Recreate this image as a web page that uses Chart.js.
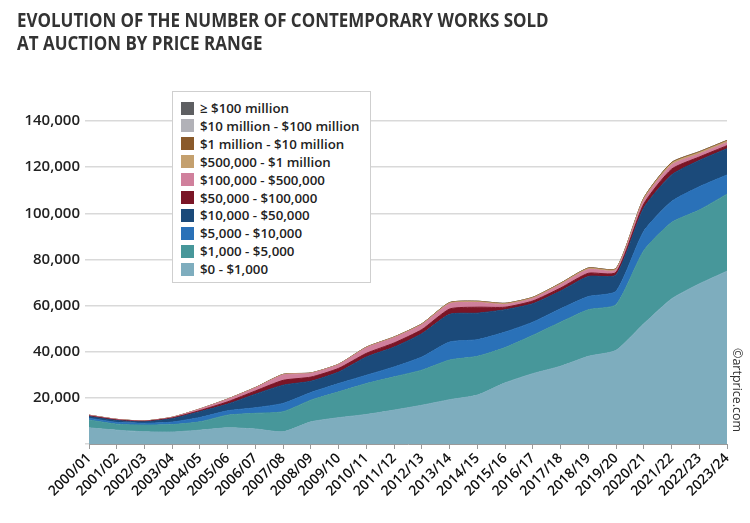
<!DOCTYPE html>
<html>
<head>
<meta charset="utf-8">
<script src="https://cdn.jsdelivr.net/npm/chart.js@4.4.0/dist/chart.umd.min.js"></script>
<style>
  html, body { margin:0; padding:0; background:#fff; }
  #wrap { position:relative; width:750px; height:523px; font-family:'Open Sans', sans-serif; }
  #title { position:absolute; left:17px; top:8px; font-size:19.5px; font-weight:700; color:#333; line-height:23px; transform:scaleX(0.87); transform-origin:0 0; white-space:nowrap; }
  #legend { position:absolute; left:172px; top:91px; width:197px; height:190px; border:1px solid #cfcfcf; background:#fff; }
  .row { position:absolute; left:8px; height:16px; font-size:13.3px; font-weight:600; color:#222; white-space:nowrap; line-height:16px; }
  .sw { position:absolute; left:0; top:1.5px; width:13px; height:13px; }
  .lab { position:absolute; left:19px; top:0; }
  #copy { position:absolute; left:729px; top:348px; writing-mode:vertical-rl; text-orientation:sideways; font-size:12.5px; color:#333; }
</style>
</head>
<body>
<div id="wrap">
  <canvas id="c" width="750" height="523"></canvas>
  <div id="title">EVOLUTION OF THE NUMBER OF CONTEMPORARY WORKS SOLD<br>AT AUCTION BY PRICE RANGE</div>
  <div id="legend"></div>
  <div id="copy">©artprice.com</div>
</div>
<script>
const categories = ['2000/01','2001/02','2002/03','2003/04','2004/05','2005/06','2006/07','2007/08','2008/09','2009/10','2010/11','2011/12','2012/13','2013/14','2014/15','2015/16','2016/17','2017/18','2018/19','2019/20','2020/21','2021/22','2022/23','2023/24'];
const yTicks = [0, 20000, 40000, 60000, 80000, 100000, 120000, 140000];

const seriesNames = ['$0 - $1,000','$1,000 - $5,000','$5,000 - $10,000','$10,000 - $50,000','$50,000 - $100,000','$100,000 - $500,000','$500,000 - $1 million','$1 million - $10 million','$10 million - $100 million','\u2265 $100 million'];
const seriesColors = ['#7eadbe','#47979a','#2a71b8','#1b4a7a','#7a1526','#d0809c','#c4a06e','#8a5a2b','#b2b2b8','#5e5f62'];

const under1k      = [7000,6000,5300,5200,6000,7000,6500,5300,9600,11400,12800,14700,16800,19200,21200,26500,30500,33700,38000,40600,52100,62900,69400,74900];
const from1kTo5k   = [3400,2600,2900,3200,3600,5500,6800,8700,9400,11200,13400,14400,15200,17200,16800,15300,16600,19100,20200,19800,31700,33100,32000,33400];
const from5kTo10k  = [800,800,800,1100,1900,1900,2400,3600,3300,3600,3600,4300,5700,7800,7200,6700,5700,5800,5700,5800,8400,9100,10100,8300];
const from10kTo50k = [700,800,600,1500,2500,2900,5900,7900,4900,5000,7900,8600,10100,12000,11500,9700,8000,7700,8700,7100,10100,11500,11400,11400];
const from50kTo100k= [300,250,250,300,500,1000,1400,2100,1800,1600,1600,1800,1800,2300,2600,1100,1200,1300,1400,1100,1700,2500,1500,1300];
const from100kTo500k=[240,200,100,240,610,1060,1290,2320,1600,1590,2380,2250,2080,2260,2030,1180,1080,1490,1630,1060,1690,1840,1310,1350];
const from500kTo1m = [40,30,30,40,60,90,130,170,130,140,200,220,260,330,350,320,330,380,420,400,560,640,620,600];
const from1mTo10m  = [20,15,15,20,30,50,70,100,70,70,110,120,150,190,200,180,180,210,230,220,320,380,340,320];
const from10mTo100m= [1,1,1,1,2,4,6,10,4,4,8,10,12,18,20,16,14,18,22,18,28,34,30,28];
const over100m     = [0,0,0,0,0,0,0,1,0,0,0,0,0,1,2,1,0,0,1,0,1,3,3,1];

const seriesValues = [under1k, from1kTo5k, from5kTo10k, from10kTo50k, from50kTo100k, from100kTo500k, from500kTo1m, from1mTo10m, from10mTo100m, over100m];

// HTML legend (top item = last series)
const leg = document.getElementById('legend');
for (let k = seriesNames.length - 1, r = 0; k >= 0; k--, r++) {
  const row = document.createElement('div');
  row.className = 'row';
  row.style.top = (8 + r * 17.9) + 'px';
  row.innerHTML = '<span class="sw" style="background:' + seriesColors[k] + '"></span><span class="lab"></span>';
  row.querySelector('.lab').textContent = seriesNames[k];
  leg.appendChild(row);
}

Chart.defaults.font.family = "'Open Sans', sans-serif";

const datasets = seriesValues.map((vals, i) => ({
  label: seriesNames[i],
  data: vals,
  backgroundColor: seriesColors[i],
  borderColor: seriesColors[i],
  borderWidth: 1,
  pointRadius: 0,
  pointHoverRadius: 0,
  fill: i === 0 ? 'origin' : '-1',
  tension: 0.2
}));

new Chart(document.getElementById('c'), {
  type: 'line',
  data: { labels: categories, datasets },
  options: {
    responsive: false,
    animation: false,
    events: [],
    layout: { padding: { top: 121, right: 23, bottom: 0, left: 0 } },
    plugins: { legend: { display: false }, tooltip: { enabled: false }, title: { display: false } },
    scales: {
      x: {
        stacked: true,
        offset: false,
        grid: { drawOnChartArea: false, drawTicks: true, tickLength: 5, color: '#9a9a9a' },
        border: { display: true, color: '#9a9a9a', width: 1 },
        ticks: { autoSkip: false, maxRotation: 45, minRotation: 45, padding: 1, color: '#111', font: { size: 14, weight: '600' } },
        afterFit: (s) => { s.height = 79; }
      },
      y: {
        stacked: true,
        min: yTicks[0],
        max: yTicks[yTicks.length - 1],
        afterBuildTicks: (s) => { s.ticks = yTicks.map(v => ({ value: v })); },
        grid: { color: '#d9d9d9', lineWidth: 1.5, drawTicks: true, tickLength: 4 },
        border: { display: false },
        ticks: {
          padding: 5,
          color: '#222',
          font: { size: 15, weight: '600' },
          callback: (v) => v === 0 ? '' : v.toLocaleString('en-US')
        },
        afterFit: (s) => { s.width = 89; }
      }
    }
  }
});
</script>
</body>
</html>
